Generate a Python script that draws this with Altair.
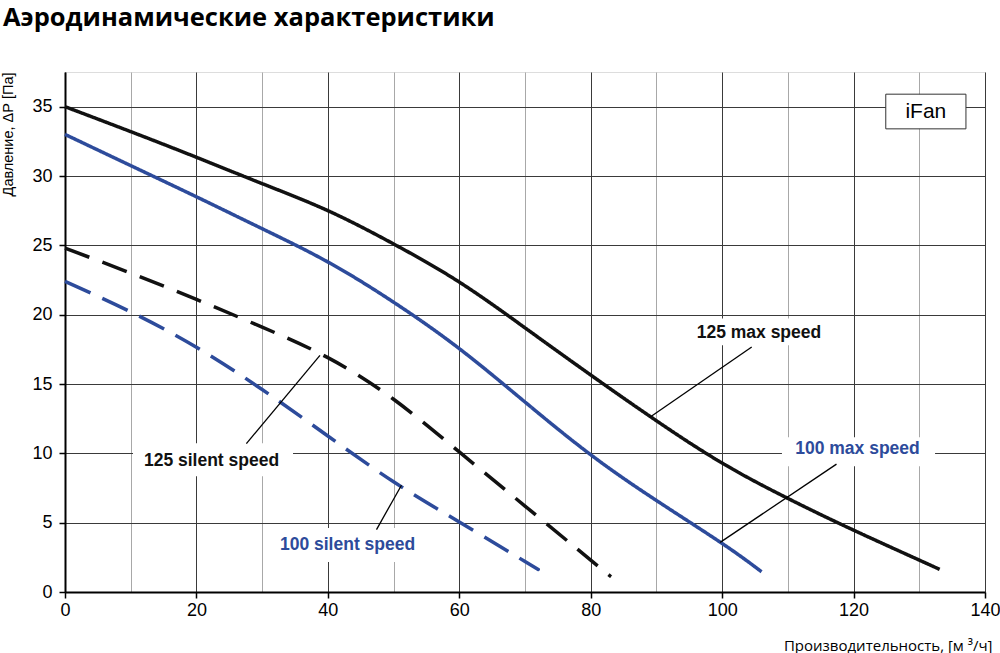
import altair as alt
import pandas as pd

# ---- data ----
x_125_max = [0, 10, 20, 30, 40, 50, 60, 70, 80, 90, 100, 110, 120, 130, 133.1]
y_125_max = [35, 33.2, 31.35, 29.45, 27.5, 25.1, 22.35, 19.05, 15.65, 12.35, 9.3, 6.75, 4.46, 2.3, 1.63]

x_100_max = [0, 10, 20, 30, 40, 50, 60, 70, 80, 90, 100, 106]
y_100_max = [33, 30.75, 28.5, 26.2, 23.8, 20.9, 17.55, 13.7, 9.9, 6.6, 3.5, 1.46]

x_125_sil = [0, 10, 20, 30, 40, 50, 60, 70, 80, 83.1]
y_125_sil = [24.8, 23.0, 21.1, 19.1, 16.9, 13.9, 10.1, 6.2, 2.3, 1.1]

x_100_sil = [0, 10, 20, 30, 40, 50, 60, 70, 72]
y_100_sil = [22.4, 20.2, 17.65, 14.6, 11.25, 7.95, 5.05, 2.2, 1.63]

series_names = ["125 max speed", "100 max speed", "125 silent speed", "100 silent speed"]
series_colors = ["#111111", "#2d4b9b", "#111111", "#2d4b9b"]

# label annotations (data coordinates)
label_x = [105.6, 120.6, 22.3, 43.0]
label_y = [18.69, 10.28, 9.43, 3.38]
# white boxes behind labels
box_x1 = [93.6, 109.1, 10.35, 30.7]
box_x2 = [117.9, 132.4, 34.7, 55.5]
box_y1 = [17.79, 9.07, 8.35, 2.16]
box_y2 = [19.73, 11.16, 10.73, 4.61]
# leader lines
lead_x1 = [104.5, 117.4, 27.6, 47.4]
lead_y1 = [17.67, 9.22, 10.7, 4.5]
lead_x2 = [89.0, 99.7, 38.8, 51.2]
lead_y2 = [12.6, 3.58, 17.07, 7.7]

x_ticks = list(range(0, 141, 10))
y_ticks = [i * 2.5 for i in range(0, 16)]

# ---- tables ----
rows = []
for name, xs, ys in zip(series_names,
                        [x_125_max, x_100_max, x_125_sil, x_100_sil],
                        [y_125_max, y_100_max, y_125_sil, y_100_sil]):
    for xv, yv in zip(xs, ys):
        rows.append({"series": name, "x": xv, "y": yv})
curves = pd.DataFrame(rows)

labels = pd.DataFrame({"series": series_names, "x": label_x, "y": label_y,
                       "bx1": box_x1, "bx2": box_x2, "by1": box_y1, "by2": box_y2,
                       "lx1": lead_x1, "ly1": lead_y1, "lx2": lead_x2, "ly2": lead_y2})

brand = pd.DataFrame({"text": ["iFan"], "x": [131.0], "y": [34.65],
                      "bx1": [124.9], "bx2": [137.1], "by1": [33.4], "by2": [35.9]})

xscale = alt.Scale(domain=[0, 140], nice=False, zero=False)
yscale = alt.Scale(domain=[0, 37.5], nice=False, zero=False)

major_grid = "#3a3a3a"
minor_grid = "#a8a8a8"

x_axis = alt.Axis(
    values=x_ticks,
    labelExpr="datum.value % 20 === 0 ? datum.label : ''",
    grid=True,
    gridColor={"condition": {"test": "datum.value % 20 === 0", "value": major_grid}, "value": minor_grid},
    gridWidth=1,
    tickColor={"condition": {"test": "datum.value % 20 === 0", "value": "black"}, "value": "transparent"},
    tickSize=6, tickWidth=1.5,
    domainColor="black", domainWidth=2,
    labelFont="Liberation Sans", labelFontSize=18, labelColor="black",
    labelPadding=3, labelFlush=False, labelOverlap=False, labelBound=False,
    title="Производительность, [м ³/ч]",
    titleFont="Open Sans", titleFontSize=15, titleFontWeight="normal", titleColor="black",
    titleX=927, titleY=58, titleAlign="right", titleBaseline="alphabetic",
)

y_axis = alt.Axis(
    values=y_ticks,
    labelExpr="datum.value % 5 === 0 ? datum.label : ''",
    grid=True,
    gridColor={"condition": {"test": "datum.value % 5 === 0", "value": major_grid}, "value": minor_grid},
    gridWidth=1,
    tickColor={"condition": {"test": "datum.value % 5 === 0", "value": "black"}, "value": "transparent"},
    tickSize=6, tickWidth=1.5,
    domainColor="black", domainWidth=2,
    labelFont="Liberation Sans", labelFontSize=18, labelColor="black",
    labelPadding=7, labelFlush=False, labelOverlap=False, labelBound=False,
    title="Давление, ΔР [Па]",
    titleFont="Liberation Sans", titleFontSize=14.5, titleFontWeight="normal", titleColor="black",
    titleAngle=270, titleX=-64, titleY=0, titleAlign="right", titleBaseline="top",
)

base_axes = alt.Chart(curves).mark_line(opacity=0).encode(
    x=alt.X("x:Q", scale=xscale, axis=x_axis),
    y=alt.Y("y:Q", scale=yscale, axis=y_axis),
    detail="series:N",
)

boxes = alt.Chart(labels).mark_rect(color="white").encode(
    x=alt.X("bx1:Q", scale=xscale), x2="bx2:Q",
    y=alt.Y("by1:Q", scale=yscale), y2="by2:Q",
)

lines = alt.Chart(curves).mark_line(strokeWidth=3.5, interpolate="natural", strokeCap="butt").encode(
    x=alt.X("x:Q", scale=xscale),
    y=alt.Y("y:Q", scale=yscale),
    color=alt.Color("series:N", scale=alt.Scale(domain=series_names, range=series_colors), legend=None),
    strokeDash=alt.StrokeDash("series:N",
                              scale=alt.Scale(domain=series_names,
                                              range=[[1, 0], [1, 0], [26, 14], [28, 13]]),
                              legend=None),
)

leaders = alt.Chart(labels).mark_rule(color="black", strokeWidth=1.3).encode(
    x=alt.X("lx1:Q", scale=xscale), y=alt.Y("ly1:Q", scale=yscale),
    x2="lx2:Q", y2="ly2:Q",
)

texts = alt.Chart(labels).mark_text(font="Liberation Sans", fontSize=17.5, fontWeight="bold",
                                    align="center", baseline="middle").encode(
    x=alt.X("x:Q", scale=xscale), y=alt.Y("y:Q", scale=yscale),
    text="series:N",
    color=alt.Color("series:N", scale=alt.Scale(domain=series_names, range=series_colors), legend=None),
)

brand_box = alt.Chart(brand).mark_rect(fill="white", stroke="#333333", strokeWidth=1).encode(
    x=alt.X("bx1:Q", scale=xscale), x2="bx2:Q",
    y=alt.Y("by1:Q", scale=yscale), y2="by2:Q",
)
brand_text = alt.Chart(brand).mark_text(font="Liberation Sans", fontSize=21, color="black",
                                        align="center", baseline="middle").encode(
    x=alt.X("x:Q", scale=xscale), y=alt.Y("y:Q", scale=yscale), text="text:N",
)

chart = alt.layer(base_axes, boxes, lines, leaders, texts, brand_box, brand_text).properties(
    width=920, height=520,
    autosize=alt.AutoSizeParams(type="none"),
    padding={"left": 65, "top": 72, "right": 15, "bottom": 61},
    title=alt.TitleParams("Аэродинамические характеристики", anchor="start", frame="group",
                          font="Open Sans", fontSize=25.5, fontWeight="bold", color="black",
                          dx=-62, offset=21, baseline="alphabetic"),
).configure_view(stroke="black", strokeWidth=2).configure(background="white")

chart.save("out.html", embed_options={"renderer": "svg", "actions": False})
